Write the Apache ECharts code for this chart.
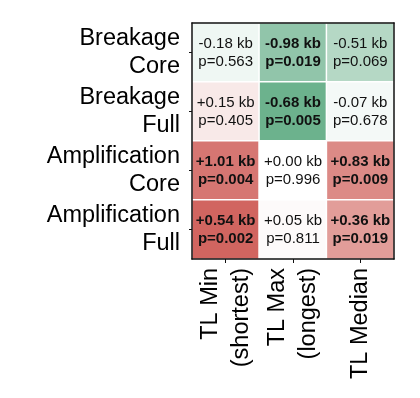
<!DOCTYPE html>
<html>
<head>
<meta charset="utf-8">
<script src="https://cdn.jsdelivr.net/npm/echarts@6/dist/echarts.min.js"></script>
<style>
html,body{margin:0;padding:0;background:#fff;}
#chart{width:420px;height:398px;}
</style>
</head>
<body>
<div id="chart"></div>
<script>
var rowLabels = ['Breakage\nCore', 'Breakage\nFull', 'Amplification\nCore', 'Amplification\nFull'];
var colLabels = ['TL Min\n(shortest)', 'TL Max\n(longest)', 'TL Median'];
// effect size (kb), one array per row, columns in colLabels order
var kbBreakageCore = [-0.18, -0.98, -0.51];
var kbBreakageFull = [0.15, -0.68, -0.07];
var kbAmplificationCore = [1.01, 0.00, 0.83];
var kbAmplificationFull = [0.54, 0.05, 0.36];
// p-values
var pBreakageCore = [0.563, 0.019, 0.069];
var pBreakageFull = [0.405, 0.005, 0.678];
var pAmplificationCore = [0.004, 0.996, 0.009];
var pAmplificationFull = [0.002, 0.811, 0.019];

var kbRows = [kbBreakageCore, kbBreakageFull, kbAmplificationCore, kbAmplificationFull];
var pRows = [pBreakageCore, pBreakageFull, pAmplificationCore, pAmplificationFull];

var data = [];
for (var r = 0; r < rowLabels.length; r++) {
  for (var c = 0; c < colLabels.length; c++) {
    var kb = kbRows[r][c], p = pRows[r][c];
    var score = (kb > 0 ? 1 : (kb < 0 ? -1 : 0)) * (-Math.log10(p));
    data.push([c, r, score, kb, p]);
  }
}

var chart = echarts.init(document.getElementById('chart'), null, {renderer: 'canvas'});
var FONT = '"Liberation Sans", Arial, sans-serif';
chart.setOption({
  backgroundColor: '#ffffff',
  animation: false,
  grid: {left: 192, top: 23, right: 26, bottom: 139},
  visualMap: {
    show: false, dimension: 2, min: -3, max: 3,
    inRange: {color: ['#3f9a6a', '#ffffff', '#cc544e']}
  },
  xAxis: [{
    type: 'category', data: colLabels, position: 'bottom', z: 10,
    axisLine: {show: true, lineStyle: {color: '#111', width: 1.5}},
    axisTick: {show: true, alignWithLabel: true, length: 4, lineStyle: {color: '#111', width: 1}},
    axisLabel: {rotate: 90, margin: 9, fontFamily: FONT, fontSize: 23.5, color: '#000', lineHeight: 31},
    splitLine: {show: false}
  }, {
    type: 'category', data: colLabels, position: 'top', z: 10,
    axisLine: {show: true, lineStyle: {color: '#111', width: 1.5}},
    axisTick: {show: false}, axisLabel: {show: false}
  }],
  yAxis: [{
    type: 'category', data: rowLabels, inverse: true, position: 'left', z: 10,
    axisLine: {show: true, lineStyle: {color: '#111', width: 1.5}},
    axisTick: {show: true, alignWithLabel: true, length: 3, lineStyle: {color: '#111', width: 1}},
    axisLabel: {margin: 12, fontFamily: FONT, fontSize: 23.5, color: '#000', lineHeight: 28, align: 'right'},
    splitLine: {show: false}
  }, {
    type: 'category', data: rowLabels, inverse: true, position: 'right', z: 10,
    axisLine: {show: true, lineStyle: {color: '#111', width: 1.5}},
    axisTick: {show: false}, axisLabel: {show: false}
  }],
  series: [{
    type: 'heatmap', data: data,
    itemStyle: {borderColor: '#ffffff', borderWidth: 1.5},
    label: {
      show: true,
      formatter: function (pr) {
        var kb = pr.value[3], p = pr.value[4];
        var t1 = (kb >= 0 ? '+' : '') + kb.toFixed(2) + ' kb';
        var t2 = 'p=' + p.toFixed(3);
        var st = p < 0.05 ? 'b' : 'n';
        return '{' + st + '|' + t1 + '}\n{' + st + '|' + t2 + '}';
      },
      rich: {
        b: {fontFamily: FONT, fontSize: 15, fontWeight: 'bold', color: '#111', lineHeight: 18},
        n: {fontFamily: FONT, fontSize: 15, fontWeight: 'normal', color: '#111', lineHeight: 18}
      }
    }
  }]
});
</script>
</body>
</html>
